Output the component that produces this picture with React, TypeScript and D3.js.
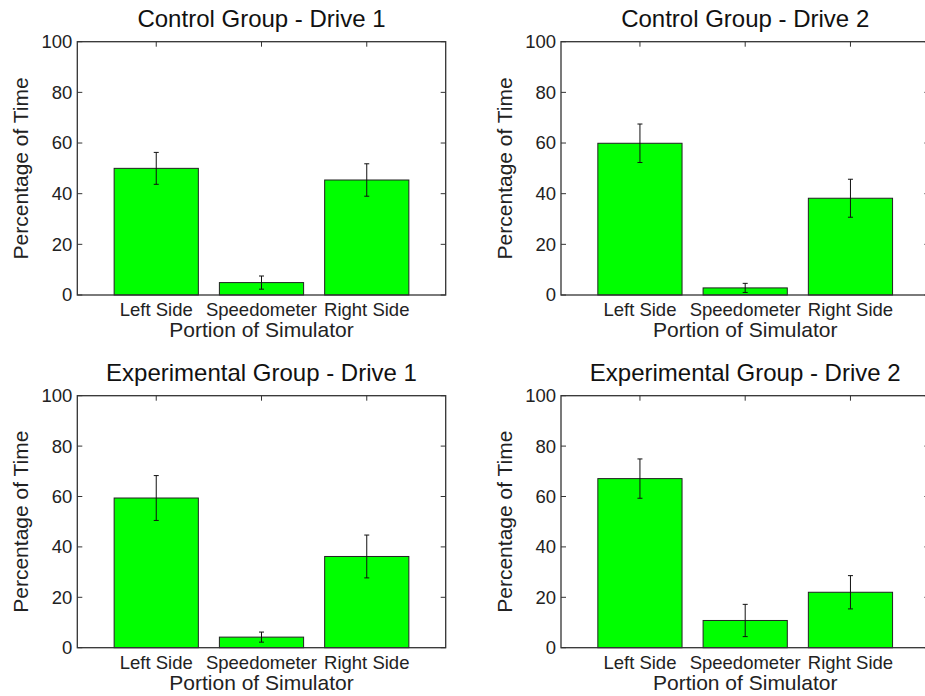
import React from "react";
import * as d3 from "d3";

const categories = ["Left Side", "Speedometer", "Right Side"];
const yTicks = [0, 20, 40, 60, 80, 100];
const panelTitles = [
  "Control Group - Drive 1",
  "Control Group - Drive 2",
  "Experimental Group - Drive 1",
  "Experimental Group - Drive 2",
];
const controlDrive1Means = [50.0, 4.9, 45.4];
const controlDrive1Errors = [6.3, 2.6, 6.4];
const controlDrive2Means = [59.9, 2.8, 38.2];
const controlDrive2Errors = [7.6, 1.8, 7.5];
const experimentalDrive1Means = [59.4, 4.2, 36.2];
const experimentalDrive1Errors = [8.9, 2.0, 8.5];
const experimentalDrive2Means = [67.1, 10.8, 22.0];
const experimentalDrive2Errors = [7.8, 6.4, 6.6];
const xLabel = "Portion of Simulator";
const yLabel = "Percentage of Time";

const panelMeans = [controlDrive1Means, controlDrive2Means, experimentalDrive1Means, experimentalDrive2Means];
const panelErrors = [controlDrive1Errors, controlDrive2Errors, experimentalDrive1Errors, experimentalDrive2Errors];

const FONT = "Liberation Sans, Arial, sans-serif";
const W = 368.4;
const layout = [
  { x: 77.3, y: 41.7, h: 253.3 },
  { x: 561, y: 41.7, h: 253.3 },
  { x: 77.3, y: 395.7, h: 252 },
  { x: 561, y: 395.7, h: 252 },
];

function Panel({ idx }: { idx: number }) {
  const { x: ox, y: oy, h } = layout[idx];
  const means = panelMeans[idx];
  const errs = panelErrors[idx];
  const x = d3.scaleLinear().domain([0.25, 3.75]).range([0, W]);
  const y = d3.scaleLinear().domain([0, 100]).range([h, 0]);
  const bw = x(0.8) - x(0);
  const tickLen = 5;
  const axisColor = "#333";
  return (
    <g transform={`translate(${ox},${oy})`}>
      <text x={W / 2} y={-15} textAnchor="middle" fontFamily={FONT} fontSize={24} fill="#111">
        {panelTitles[idx]}
      </text>
      {categories.map((c, i) => {
        const cx = x(i + 1);
        const m = means[i];
        const e = errs[i];
        return (
          <g key={c}>
            <rect x={cx - bw / 2} y={y(m)} width={bw} height={h - y(m)} fill="#00ff00" stroke="#222" strokeWidth={1} />
            <line x1={cx} x2={cx} y1={y(m + e)} y2={y(m - e)} stroke="#111" strokeWidth={1} />
            <line x1={cx - 2.5} x2={cx + 2.5} y1={y(m + e)} y2={y(m + e)} stroke="#111" strokeWidth={1} />
            <line x1={cx - 2.5} x2={cx + 2.5} y1={y(m - e)} y2={y(m - e)} stroke="#111" strokeWidth={1} />
            <line x1={cx} x2={cx} y1={0} y2={tickLen} stroke={axisColor} strokeWidth={1} />
            <text x={cx} y={h + 21} textAnchor="middle" fontFamily={FONT} fontSize={18.5} fill="#222">
              {c}
            </text>
          </g>
        );
      })}
      {yTicks.map((t) => (
        <g key={t}>
          <line x1={0} x2={tickLen} y1={y(t)} y2={y(t)} stroke={axisColor} strokeWidth={1} />
          <line x1={W} x2={W - tickLen} y1={y(t)} y2={y(t)} stroke={axisColor} strokeWidth={1} />
          <text x={-5} y={y(t)} dy="0.35em" textAnchor="end" fontFamily={FONT} fontSize={18.5} fill="#222">
            {t}
          </text>
        </g>
      ))}
      <rect x={0} y={0} width={W} height={h} fill="none" stroke={axisColor} strokeWidth={1.3} />
      <text x={W / 2} y={h + 42} textAnchor="middle" fontFamily={FONT} fontSize={21} fill="#222">
        {xLabel}
      </text>
      <text
        transform={`translate(${-49},${h / 2}) rotate(-90)`}
        textAnchor="middle"
        fontFamily={FONT}
        fontSize={21}
        fill="#222"
      >
        {yLabel}
      </text>
    </g>
  );
}

export default function App() {
  return (
    <svg width={925} height={696} style={{ position: "absolute", left: 0, top: 0, background: "#fff" }}>
      <rect width={925} height={696} fill="#fff" />
      {panelTitles.map((_, i) => (
        <Panel key={i} idx={i} />
      ))}
    </svg>
  );
}
